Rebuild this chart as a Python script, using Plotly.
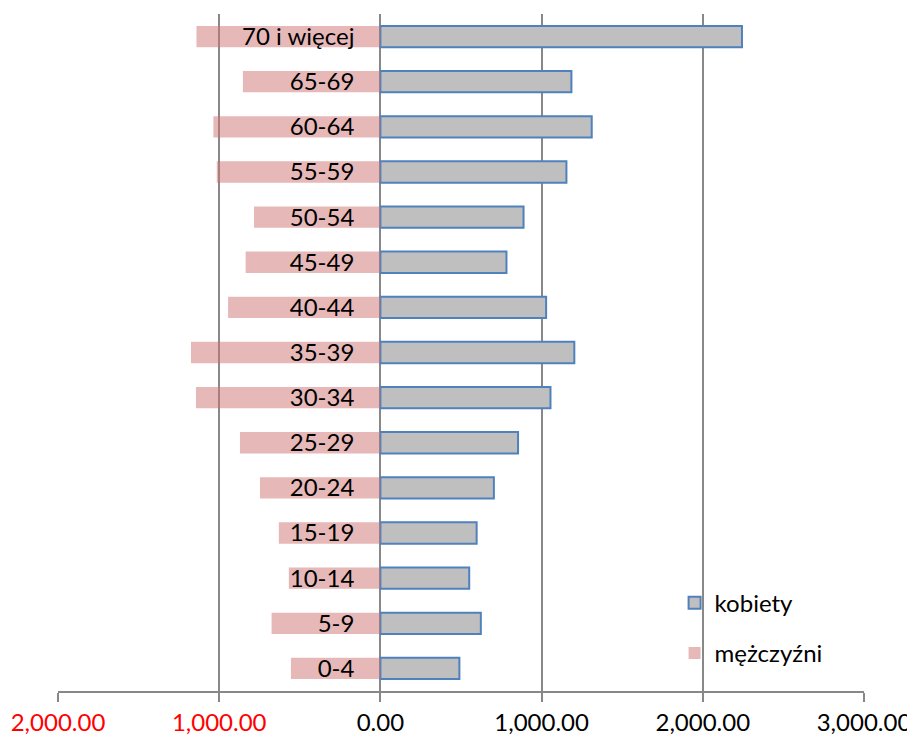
import plotly.graph_objects as go

categories = ["0-4", "5-9", "10-14", "15-19", "20-24", "25-29", "30-34", "35-39",
              "40-44", "45-49", "50-54", "55-59", "60-64", "65-69", "70 i więcej"]
kobiety = [490, 623, 551, 597, 704, 854, 1055, 1203, 1028, 782, 888, 1154, 1311, 1185, 2243]
mezczyzni = [555, 675, 568, 630, 747, 871, 1144, 1175, 945, 836, 784, 1015, 1036, 853, 1141]

tick_vals = [-2000, -1000, 0, 1000, 2000, 3000]
tick_text = ['<span style="color:#FF0000">2,000.00</span>',
             '<span style="color:#FF0000">1,000.00</span>',
             "0.00", "1,000.00", "2,000.00", "3,000.00"]

FONT = "Lato"

fig = go.Figure()
fig.add_trace(go.Bar(
    y=categories, x=kobiety, orientation="h", name="kobiety",
    marker=dict(color="#BFBFBF", line=dict(color="#4F81BD", width=2)),
    legendgroup="k",
))
fig.add_trace(go.Bar(
    y=categories, x=[-v for v in mezczyzni], orientation="h", name="mężczyźni",
    marker=dict(color="rgba(205,116,114,0.5)", line=dict(width=0)),
    legendgroup="m",
))

# page body has an 8px margin, so the figure is offset by (8, 8)
fig.update_layout(
    width=907, height=730,
    margin=dict(l=50, r=51, t=6, b=47, autoexpand=False),
    paper_bgcolor="white", plot_bgcolor="white",
    barmode="relative", bargap=0.527,
    font=dict(family=FONT, size=24, color="black"),
    showlegend=True,
    legend=dict(x=0.765, y=0.163, xanchor="left", yanchor="top",
                bgcolor="rgba(0,0,0,0)", tracegroupgap=16,
                font=dict(family=FONT, size=24, color="black"),
                traceorder="grouped"),
    xaxis=dict(
        range=[-2000, 3000], tickvals=tick_vals, ticktext=tick_text,
        showgrid=True, gridcolor="#888888", gridwidth=1.5,
        zeroline=False, showline=True, linecolor="#888888", linewidth=1.5,
        ticks="outside", ticklen=9, tickcolor="#888888", tickwidth=1.5,
        tickfont=dict(family=FONT, size=24, color="black"),
        fixedrange=True, automargin=False,
    ),
    yaxis=dict(
        categoryorder="array", categoryarray=categories,
        range=[-0.5, len(categories) - 0.5],
        showgrid=False, zeroline=False, showline=False, ticks="",
        anchor="free", position=0.4, ticklabelstandoff=26,
        tickfont=dict(family=FONT, size=24, color="black"),
        fixedrange=True, automargin=False,
    ),
)

fig.write_html("out.html")
